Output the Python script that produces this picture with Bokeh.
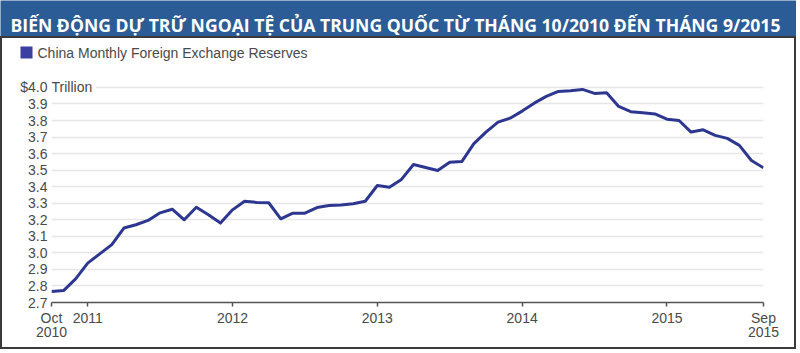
import numpy as np
import pandas as pd
from bokeh.plotting import figure
from bokeh.layouts import column
from bokeh.models import (Range1d, FixedTicker, Label, CustomJSTickFormatter,
                          ColumnDataSource)
from bokeh.embed import file_html
from bokeh.resources import INLINE

# ---------------- data ----------------
title_text = "BIẾN ĐỘNG DỰ TRỮ NGOẠI TỆ CỦA TRUNG QUỐC TỪ THÁNG 10/2010 ĐẾN THÁNG 9/2015"
series_name = "China Monthly Foreign Exchange Reserves"
months = pd.date_range("2010-10-01", "2015-09-01", freq="MS")
reserves = [
    2.766, 2.772, 2.843,
    2.938, 2.994, 3.050, 3.150, 3.170, 3.196, 3.242, 3.264, 3.200, 3.276, 3.230, 3.180,
    3.260, 3.312, 3.305, 3.303, 3.206, 3.240, 3.240, 3.274, 3.286, 3.290, 3.297, 3.312,
    3.407, 3.397, 3.444, 3.534, 3.516, 3.498, 3.548, 3.552, 3.660, 3.730, 3.790, 3.814,
    3.857, 3.905, 3.946, 3.976, 3.980, 3.988, 3.964, 3.968, 3.885, 3.853, 3.847, 3.840,
    3.808, 3.800, 3.730, 3.744, 3.710, 3.692, 3.650, 3.558, 3.514,
]
y_ticks = [2.7, 2.8, 2.9, 3.0, 3.1, 3.2, 3.3, 3.4, 3.5, 3.6, 3.7, 3.8, 3.9, 4.0]
y_unit = "Trillion"
x_tick_months = ["2010-10", "2011-01", "2012-01", "2013-01", "2014-01", "2015-01", "2015-09"]
x_tick_labels = ["Oct\n2010", "2011", "2012", "2013", "2014", "2015", "Sep\n2015"]

# ---------------- styles ----------------
FONT = "Liberation Sans"
TXT = "#4a4a4a"
LINE = "#2e3790"
BAR = "#2b5c96"
SWATCH = "#3b3fa0"


def no_align(f):
    try:
        f.frame_align = False
    except Exception:
        pass
    return f


def strip(width, height, bg):
    f = figure(width=width, height=height, output_backend="svg", toolbar_location=None,
               x_axis_type=None, y_axis_type=None,
               x_range=Range1d(0, width), y_range=Range1d(height, 0),
               min_border=0, min_border_left=0, min_border_right=0,
               min_border_top=0, min_border_bottom=0)
    f.xgrid.visible = False
    f.ygrid.visible = False
    f.outline_line_color = None
    f.background_fill_color = bg
    f.border_fill_color = bg
    return no_align(f)


# ---------------- title bar ----------------
title_fig = strip(796, 36, BAR)
title_fig.add_layout(Label(x=10, y=24, text=title_text,
                           text_baseline="alphabetic", text_align="left",
                           text_font="Open Sans", text_font_style="bold",
                           text_font_size="17.6px", text_color="white"))

# ---------------- legend strip ----------------
leg_fig = strip(792, 30, "white")
leg_fig.rect(x=[24], y=[14], width=12, height=12, fill_color=SWATCH, line_color=None)
leg_fig.add_layout(Label(x=35, y=14, text=series_name,
                         text_baseline="middle", text_align="left",
                         text_font=FONT, text_font_size="14px", text_color=TXT))

# ---------------- main chart ----------------
month_keys = [m.strftime("%Y-%m") for m in months]
x = list(range(len(months)))
source = ColumnDataSource(dict(x=x, y=reserves))
x_ticks = [month_keys.index(m) for m in x_tick_months]

p = figure(width=792, height=279, output_backend="svg", toolbar_location=None,
           x_range=Range1d(0, len(months) - 1),
           y_range=Range1d(y_ticks[0], y_ticks[-1] + 0.06),
           min_border_left=49, min_border_right=31, min_border_top=9, min_border_bottom=45)
no_align(p)
p.background_fill_color = "white"
p.border_fill_color = "white"
p.outline_line_color = None

p.xgrid.grid_line_color = None
p.ygrid.grid_line_color = "#e6e6e6"
p.ygrid.grid_line_width = 1.5

p.yaxis.ticker = FixedTicker(ticks=y_ticks)
p.yaxis.formatter = CustomJSTickFormatter(
    code="return tick > 3.95 ? '$' + tick.toFixed(1) : tick.toFixed(1);")
p.yaxis.axis_line_color = None
p.yaxis.major_tick_line_color = None
p.yaxis.major_tick_out = 0
p.yaxis.major_tick_in = 0
p.yaxis.minor_tick_line_color = None
p.yaxis.minor_tick_out = 0
p.yaxis.major_label_standoff = 4
p.yaxis.major_label_text_font = FONT
p.yaxis.major_label_text_font_size = "14px"
p.yaxis.major_label_text_color = TXT

p.xaxis.ticker = FixedTicker(ticks=x_ticks)
p.xaxis.major_label_overrides = {t: l for t, l in zip(x_ticks, x_tick_labels)}
p.xaxis.axis_line_color = "#555555"
p.xaxis.axis_line_width = 1.5
p.xaxis.major_tick_line_color = "#555555"
p.xaxis.major_tick_line_width = 1.5
p.xaxis.major_tick_out = 4
p.xaxis.major_tick_in = 0
p.xaxis.minor_tick_line_color = None
p.xaxis.major_label_standoff = 3
p.xaxis.major_label_text_font = FONT
p.xaxis.major_label_text_font_size = "14px"
p.xaxis.major_label_text_color = TXT
p.xaxis.major_label_text_line_height = 0.9

p.line("x", "y", source=source, line_color=LINE, line_width=3, line_join="round")

p.add_layout(Label(x=0, y=y_ticks[-1], text=y_unit + " ",
                   text_baseline="middle", text_align="left",
                   text_font=FONT, text_font_size="14px", text_color=TXT,
                   background_fill_color="white"))

panel = column(leg_fig, p, spacing=0, styles={"border": "2px solid #3a3a3a"})
page = column(title_fig, panel, spacing=0)

open("out.html", "w").write(file_html(page, INLINE))
